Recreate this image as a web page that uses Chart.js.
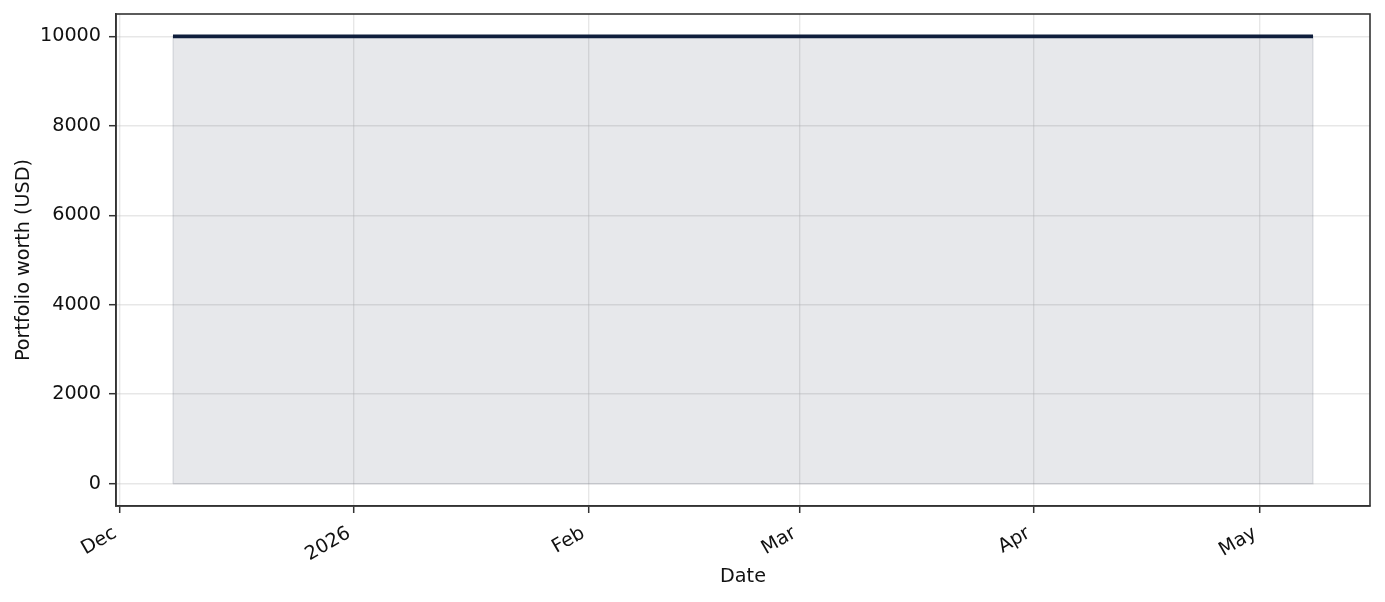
<!DOCTYPE html>
<html>
<head>
<meta charset="utf-8">
<script src="https://cdn.jsdelivr.net/npm/chart.js@4"></script>
<style>
  html, body { margin: 0; padding: 0; background: #fff; }
  #wrap { width: 1385px; height: 602px; }
</style>
</head>
<body>
<div id="wrap"><canvas id="myChart" width="1385" height="602"></canvas></div>
<script>
// portfolio data (flat at the starting balance)
const dates = ['2025-12-08', '2026-01-08', '2026-02-08', '2026-03-08', '2026-04-08', '2026-05-08'];
const worth = [10000, 10000, 10000, 10000, 10000, 10000];

// axis ticks
const xTickDates = ['2025-12-01', '2026-01-01', '2026-02-01', '2026-03-01', '2026-04-01', '2026-05-01'];
const xTickLabels = ['Dec', '2026', 'Feb', 'Mar', 'Apr', 'May'];
const yTicks = [0, 2000, 4000, 6000, 8000, 10000];

function toMs(s) { return Date.parse(s + 'T00:00:00Z'); }

const xs = dates.map(toMs);
const linePts = xs.map((x, i) => ({ x: x, y: worth[i] }));
// outline of the shaded area under the line
const edgePts = [{ x: xs[0], y: 0 }].concat(linePts, [{ x: xs[xs.length - 1], y: 0 }, { x: xs[0], y: 0 }]);

const span = xs[xs.length - 1] - xs[0];
const xMin = xs[0] - span * 0.05;
const xMax = xs[xs.length - 1] + span * 0.05;
const yLo = Math.min(0, ...worth), yHi = Math.max(...worth);
const yMin = yLo - (yHi - yLo) * 0.05;
const yMax = yHi + (yHi - yLo) * 0.05;

const font = { family: 'DejaVu Sans', size: 19.2 };
const gridColor = 'rgba(176,176,176,0.3)';

// matplotlib-like box around the plot
const frame = {
  id: 'frame',
  afterDraw(chart) {
    const a = chart.chartArea, c = chart.ctx;
    c.save();
    c.strokeStyle = '#333';
    c.lineWidth = 1.6;
    c.strokeRect(a.left, a.top, a.right - a.left, a.bottom - a.top);
    c.restore();
  }
};

const ctx = document.getElementById('myChart').getContext('2d');
const myChart = new Chart(ctx, {
  type: 'line',
  data: {
    datasets: [
      {
        data: linePts,
        borderWidth: 0,
        borderColor: 'rgba(0,0,0,0)',
        backgroundColor: 'rgba(15,31,61,0.1)',
        fill: 'origin',
        pointRadius: 0,
        tension: 0,
        order: 3
      },
      {
        data: edgePts,
        borderColor: 'rgba(15,31,61,0.1)',
        borderWidth: 1.5,
        fill: false,
        pointRadius: 0,
        tension: 0,
        order: 2
      },
      {
        data: linePts,
        borderColor: '#0f1e3c',
        borderWidth: 3.8,
        borderCapStyle: 'butt',
        fill: false,
        pointRadius: 0,
        tension: 0,
        order: 1
      }
    ]
  },
  options: {
    responsive: false,
    animation: false,
    layout: { padding: { top: 14, right: 15, left: 0, bottom: 0 } },
    plugins: { legend: { display: false }, tooltip: { enabled: false } },
    scales: {
      x: {
        type: 'linear',
        min: xMin,
        max: xMax,
        afterBuildTicks(s) { s.ticks = xTickDates.map(d => ({ value: toMs(d) })); },
        afterFit(s) { s.height = 96; s.paddingLeft = 0; s.paddingRight = 0; },
        ticks: {
          autoSkip: false,
          minRotation: 30,
          maxRotation: 30,
          padding: 9,
          labelOffset: -5,
          color: '#111',
          font: font,
          callback(v, i) { return xTickLabels[i]; }
        },
        grid: { color: gridColor, lineWidth: 1.4, tickLength: 7, tickColor: '#333', tickWidth: 1.5 },
        border: { color: '#333', width: 1.6 },
        title: { display: true, text: 'Date', color: '#111', font: font, padding: { top: 4, bottom: 13.5 } }
      },
      y: {
        min: yMin,
        max: yMax,
        afterBuildTicks(s) { s.ticks = yTicks.map(v => ({ value: v })); },
        afterFit(s) { s.width = 116; s.paddingTop = 0; s.paddingBottom = 0; },
        ticks: { padding: 8, color: '#111', font: font, callback(v) { return String(v); } },
        grid: { color: gridColor, lineWidth: 1.4, tickLength: 7, tickColor: '#333', tickWidth: 1.5 },
        border: { color: '#333', width: 1.6 },
        title: { display: true, text: 'Portfolio worth (USD)', color: '#111', font: font, padding: { top: 12, bottom: 0 } }
      }
    }
  },
  plugins: [frame]
});
</script>
</body>
</html>
